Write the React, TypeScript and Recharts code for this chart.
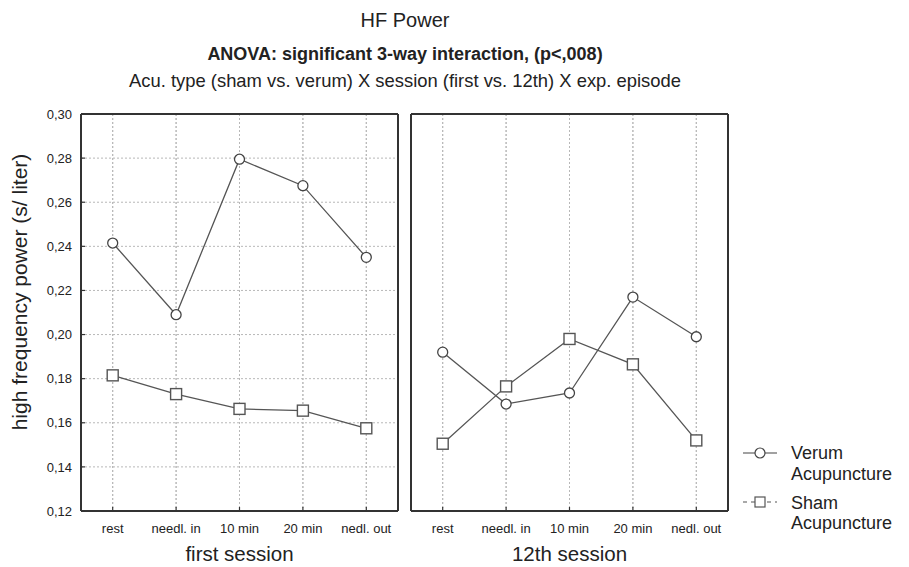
import React from 'react';
import { LineChart, Line, XAxis, YAxis, CartesianGrid, Legend } from 'recharts';

const categories = ['rest', 'needl. in', '10 min', '20 min', 'nedl. out'];

const verumFirst = [0.2415, 0.209, 0.2795, 0.2675, 0.235];
const shamFirst = [0.1815, 0.173, 0.1663, 0.1655, 0.1575];
const verumTwelfth = [0.192, 0.1685, 0.1735, 0.217, 0.199];
const shamTwelfth = [0.1505, 0.1765, 0.198, 0.1865, 0.152];

const majorTicks = [0.12, 0.14, 0.16, 0.18, 0.2, 0.22, 0.24, 0.26, 0.28, 0.3];
const allTicks = [
  0.12, 0.13, 0.14, 0.15, 0.16, 0.17, 0.18, 0.19, 0.2, 0.21,
  0.22, 0.23, 0.24, 0.25, 0.26, 0.27, 0.28, 0.29, 0.3,
];

const FONT = '"Liberation Sans", Arial, Helvetica, sans-serif';
const INK = '#222';
const FRAME = '#333';
const SERIES = '#555';
const GRID = '#b8b8b8';
const NONE = 'transparent';

const fmt = (v: number) => v.toFixed(2).replace('.', ',');

const SquareDot = (props: any) => {
  const { cx, cy, index } = props;
  if (cx == null || cy == null) return null;
  return (
    <rect
      key={`sq-${index}`}
      x={cx - 5.5}
      y={cy - 5.5}
      width={11}
      height={11}
      fill="#fff"
      stroke={SERIES}
      strokeWidth={1.4}
    />
  );
};

const LegendBox = () => (
  <svg width={170} height={105} fontFamily={FONT} fontSize={18} fill={INK}>
    <line x1={0} x2={34} y1={23} y2={23} stroke="#444" strokeWidth={1.2} />
    <circle cx={17} cy={23} r={5} fill="#fff" stroke="#444" strokeWidth={1.2} />
    <text x={48} y={29}>Verum</text>
    <text x={48} y={50}>Acupuncture</text>
    <line x1={0} x2={34} y1={72} y2={72} stroke="#555" strokeWidth={1.2} strokeDasharray="4 4" />
    <rect x={12} y={67} width={10} height={10} fill="#fff" stroke="#555" strokeWidth={1.2} />
    <text x={48} y={79}>Sham</text>
    <text x={48} y={99}>Acupuncture</text>
  </svg>
);

interface PanelProps {
  verum: number[];
  sham: number[];
  x: number;
  width: number;
  left: number;
  right: number;
  labelled: boolean;
  session: string;
  withLegend?: boolean;
}

const frameLine = { stroke: FRAME, strokeWidth: 2 };
const tickMark = { stroke: FRAME, strokeWidth: 1.2 };
const tickText = { fill: INK, fontSize: 13, fontFamily: FONT };
const layer: React.CSSProperties = { position: 'absolute', left: 0, top: 0 };

const Panel: React.FC<PanelProps> = ({ verum, sham, x, width, left, right, labelled, session, withLegend }) => {
  const data = categories.map((cat, i) => ({ cat, verum: verum[i], sham: sham[i] }));
  const yLabelWidth = labelled ? 81 : 0;

  return (
    <div style={{ position: 'absolute', left: x, top: 0, width, height: 567 }}>
      {/* back layer: carries the dotted grid, everything else is transparent */}
      <div style={layer}>
        <LineChart width={width} height={567} data={data} margin={{ top: 114, right, bottom: 0, left: left + yLabelWidth }}>
          <CartesianGrid stroke={GRID} strokeDasharray="2 2" />
          <XAxis
            dataKey="cat"
            interval={0}
            padding={{ left: 31.7, right: 31.7 }}
            height={56}
            tickSize={-4}
            tickMargin={17}
            axisLine={{ stroke: NONE }}
            tickLine={{ stroke: NONE }}
            tick={{ fill: NONE, fontSize: 13, fontFamily: FONT }}
            label={{ value: session, position: 'insideBottom', offset: 6, fill: NONE, fontSize: 20.5, fontFamily: FONT }}
          />
          <XAxis xAxisId="top" orientation="top" dataKey="cat" height={0} tick={false} tickLine={false} axisLine={{ stroke: NONE }} />
          <YAxis
            type="number"
            domain={[0.12, 0.3]}
            ticks={majorTicks}
            interval={0}
            allowDataOverflow
            width={0}
            tickSize={-4}
            tickMargin={13}
            tick={labelled ? { fill: NONE, fontSize: 13, fontFamily: FONT } : false}
            tickFormatter={fmt}
            axisLine={{ stroke: NONE }}
            tickLine={{ stroke: NONE }}
          />
          <YAxis
            yAxisId="minor"
            type="number"
            domain={[0.12, 0.3]}
            ticks={allTicks}
            interval={0}
            allowDataOverflow
            width={0}
            tickSize={-4}
            tick={false}
            axisLine={false}
            tickLine={{ stroke: NONE }}
          />
          <YAxis
            yAxisId="frame"
            orientation="right"
            type="number"
            domain={[0.12, 0.3]}
            ticks={allTicks}
            interval={0}
            allowDataOverflow
            width={0}
            tickSize={-4}
            tick={false}
            axisLine={{ stroke: NONE }}
            tickLine={{ stroke: NONE }}
          />
          <Line dataKey="verum" stroke={NONE} dot={false} activeDot={false} isAnimationActive={false} />
          <Line dataKey="sham" stroke={NONE} dot={false} activeDot={false} isAnimationActive={false} />
        </LineChart>
      </div>

      {/* front layer: frame, ticks, labels, series */}
      <div style={layer}>
        <LineChart width={width} height={567} data={data} margin={{ top: 114, right, bottom: 0, left }}>
          <CartesianGrid horizontal={false} stroke={GRID} strokeDasharray="2 2" />
          <XAxis
            dataKey="cat"
            interval={0}
            padding={{ left: 31.7, right: 31.7 }}
            height={56}
            tickSize={-4}
            tickMargin={17}
            axisLine={frameLine}
            tickLine={tickMark}
            tick={tickText}
            label={{ value: session, position: 'insideBottom', offset: 6, fill: INK, fontSize: 20.5, fontFamily: FONT }}
          />
          <XAxis
            xAxisId="top"
            orientation="top"
            dataKey="cat"
            mirror
            height={1}
            tick={false}
            tickLine={false}
            axisLine={frameLine}
          />
          {labelled ? (
            <YAxis
              type="number"
              domain={[0.12, 0.3]}
              ticks={majorTicks}
              interval={0}
              allowDataOverflow
              width={81}
              tickSize={-4}
              tickMargin={13}
              tick={tickText}
              tickFormatter={fmt}
              axisLine={frameLine}
              tickLine={tickMark}
            />
          ) : (
            <YAxis
              type="number"
              domain={[0.12, 0.3]}
              ticks={majorTicks}
              interval={0}
              allowDataOverflow
              mirror
              width={1}
              tickSize={4}
              tick={false}
              axisLine={frameLine}
              tickLine={tickMark}
            />
          )}
          {/* minor tick marks on the left edge */}
          <YAxis
            yAxisId="minor"
            type="number"
            domain={[0.12, 0.3]}
            ticks={allTicks}
            interval={0}
            allowDataOverflow
            mirror
            width={1}
            tickSize={4}
            tick={false}
            axisLine={false}
            tickLine={tickMark}
          />
          {/* right edge of the box */}
          <YAxis
            yAxisId="frame"
            orientation="right"
            type="number"
            domain={[0.12, 0.3]}
            ticks={allTicks}
            interval={0}
            allowDataOverflow
            mirror
            width={1}
            tickSize={4}
            tick={false}
            axisLine={frameLine}
            tickLine={tickMark}
          />
          <Line
            type="linear"
            dataKey="verum"
            name="Verum Acupuncture"
            stroke={SERIES}
            strokeWidth={1.3}
            dot={{ r: 5, fill: '#fff', stroke: '#444', strokeWidth: 1.3 }}
            activeDot={false}
            isAnimationActive={false}
          />
          <Line
            type="linear"
            dataKey="sham"
            name="Sham Acupuncture"
            stroke={SERIES}
            strokeWidth={1.3}
            dot={SquareDot}
            activeDot={false}
            isAnimationActive={false}
          />
          {withLegend && (
            <Legend
              layout="vertical"
              align="center"
              verticalAlign="middle"
              content={() => <LegendBox />}
              wrapperStyle={{ left: 339, top: 430, width: 170, height: 105 }}
            />
          )}
        </LineChart>
      </div>
    </div>
  );
};

export default function App() {
  return (
    <div style={{ position: 'absolute', left: 0, top: 0, width: 909, height: 567, background: '#fff' }}>
      <Panel verum={verumFirst} sham={shamFirst} x={0} width={404} left={0} right={6} labelled session="first session" />
      <Panel
        verum={verumTwelfth}
        sham={shamTwelfth}
        x={404}
        width={505}
        left={7}
        right={181}
        labelled={false}
        session="12th session"
        withLegend
      />
      <svg
        width={909}
        height={567}
        style={{ position: 'absolute', left: 0, top: 0, pointerEvents: 'none' }}
        fontFamily={FONT}
        fill={INK}
      >
        <text x={405} y={27} textAnchor="middle" fontSize={20}>HF Power</text>
        <text x={405} y={59.5} textAnchor="middle" fontSize={18} fontWeight="bold">
          ANOVA: significant 3-way interaction, (p&lt;,008)
        </text>
        <text x={405} y={87.3} textAnchor="middle" fontSize={18.4}>
          Acu. type (sham vs. verum) X session (first vs. 12th) X exp. episode
        </text>
        <text transform="translate(27,292) rotate(-90)" textAnchor="middle" fontSize={21}>
          high frequency power (s/ liter)
        </text>
      </svg>
    </div>
  );
}
